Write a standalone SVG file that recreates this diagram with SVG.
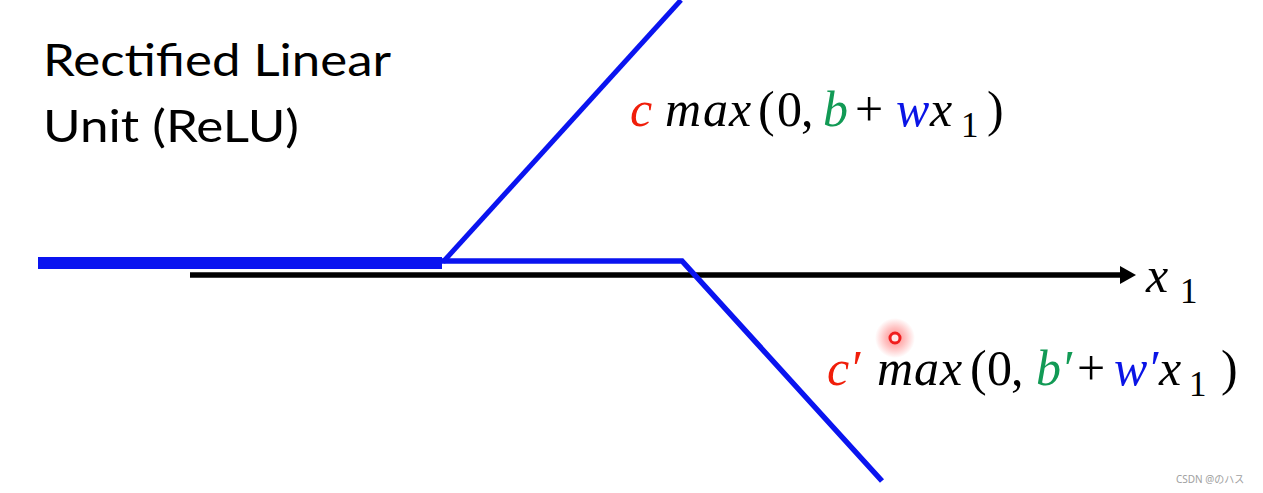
<svg xmlns="http://www.w3.org/2000/svg" width="1263" height="493" viewBox="0 0 1263 493">
<defs>
<style>
.title{font-family:Lato,"Liberation Sans",sans-serif;font-size:45px;fill:#000}
.m{font-family:"Liberation Serif","DejaVu Serif",serif;font-size:50px;fill:#000}
.it{font-style:italic}
.sub{font-size:35px}
.r{fill:#f01e0a}
.g{fill:#129a55}
.b{fill:#0a14e6}
.blue{stroke:#0a14f0;fill:none;stroke-linejoin:miter}
</style>
<radialGradient id="glow">
<stop offset="0" stop-color="#ff2a2a" stop-opacity="0.55"/>
<stop offset="0.5" stop-color="#ff2a2a" stop-opacity="0.3"/>
<stop offset="1" stop-color="#ff2a2a" stop-opacity="0"/>
</radialGradient>
<marker id="ah" markerWidth="16" markerHeight="18" refX="0" refY="9" orient="auto" markerUnits="userSpaceOnUse">
<path d="M0,0 L16,9 L0,18 Z" fill="#000"/>
</marker>
</defs>
<rect width="1263" height="493" fill="#fff"/>
<g id="title">
<text class="title" x="43" y="76" textLength="348" lengthAdjust="spacingAndGlyphs">Rectified Linear</text>
<text class="title" x="43" y="142" textLength="256" lengthAdjust="spacingAndGlyphs">Unit (ReLU)</text>
</g>
<g id="connectors">
<line x1="190" y1="275" x2="1120" y2="275" stroke="#000" stroke-width="5.5" marker-end="url(#ah)"/>
<path class="blue" d="M38,263 L442,263" stroke-width="12"/>
<path class="blue" d="M442,261 L682,261 L882,481" stroke-width="5.5"/>
<path class="blue" d="M443,262 L681,0" stroke-width="5"/>
</g>
<g id="label-top">
<text class="m" y="126"><tspan class="it r" x="630">c</tspan><tspan class="it" x="665">m</tspan><tspan class="it" x="703">a</tspan><tspan class="it" x="729">x</tspan><tspan x="758">(</tspan><tspan x="777">0</tspan><tspan x="801">,</tspan><tspan class="it g" x="823">b</tspan><tspan x="855">+</tspan><tspan class="it b" x="896">w</tspan><tspan class="it" x="930">x</tspan><tspan class="sub" x="961" y="137">1</tspan><tspan x="987" y="126">)</tspan></text>
</g>
<g id="label-bottom">
<text class="m" y="385"><tspan class="it r" x="827">c′</tspan><tspan class="it" x="877">m</tspan><tspan class="it" x="914">a</tspan><tspan class="it" x="940">x</tspan><tspan x="970">(</tspan><tspan x="987">0</tspan><tspan x="1011">,</tspan><tspan class="it g" x="1036">b′</tspan><tspan x="1077">+</tspan><tspan class="it b" x="1114">w′</tspan><tspan class="it" x="1159">x</tspan><tspan class="sub" x="1189" y="396">1</tspan><tspan x="1221" y="385">)</tspan></text>
</g>
<g id="label-axis">
<text class="m" y="292"><tspan class="it" x="1146">x</tspan><tspan class="sub" x="1180" y="303">1</tspan></text>
</g>
<g id="cursor">
<circle cx="895" cy="338" r="20" fill="url(#glow)"/>
<circle cx="895" cy="338" r="5" fill="#ffe8e8" stroke="#f01e1e" stroke-width="3"/>
</g>
<text x="1176" y="483" font-family="'Noto Sans','Noto Sans CJK JP',sans-serif" font-size="10" fill="#a0a0a0">CSDN @のハス</text>
</svg>
